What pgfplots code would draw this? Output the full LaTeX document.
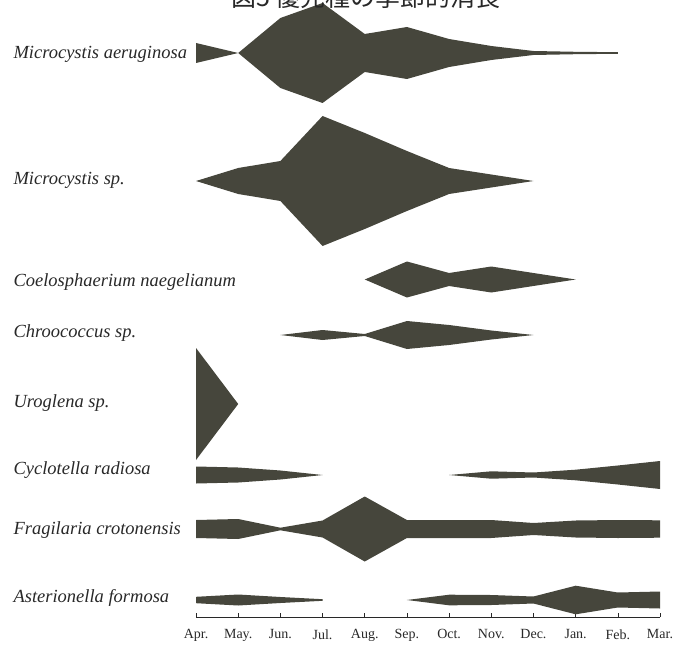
\documentclass[border=0pt]{standalone}
\usepackage{pgfplots}
\pgfplotsset{compat=1.18}
\usepackage{pgfplotstable}
\usepgfplotslibrary{fillbetween}
\usepackage{fontspec}
\setmainfont{Liberation Serif}
\newfontfamily\cjk{Noto Sans CJK JP}
\definecolor{kite}{RGB}{70,70,60}
\definecolor{ink}{RGB}{40,40,40}

% half widths of the kites (px), month 0 = Apr.
\pgfplotstableread{
m h
0 10
1 0
2 35
3 50
4 19
5 26
6 14
7 7
8 2
9 1.2
10 0.8
}\maer
\pgfplotstableread{
m h
0 0
1 13
2 20
3 65
4 48
5 30
6 13
7 6.5
8 0
}\msp
\pgfplotstableread{
m h
4 0
5 18
6 6.5
7 13
8 6.5
9 0
}\coel
\pgfplotstableread{
m h
2 0
3 5
4 1
5 14
6 10
7 4.5
8 0
}\chro
\pgfplotstableread{
m h
0 56
1 0
}\urog
\pgfplotstableread{
m h
0 8.5
1 7.5
2 4.5
3 0
}\cyclA
\pgfplotstableread{
m h
6 0
7 3.7
8 2.5
9 5.3
10 9.5
11 14
}\cyclB
\pgfplotstableread{
m h
0 9
1 10
2 1.3
3 8.5
4 32.5
5 9
6 9
7 9
8 6
9 8.5
10 9
11 8.7
}\frag
\pgfplotstableread{
m h
0 3.2
1 5.5
2 3
3 0.8
}\asteA
\pgfplotstableread{
m h
5 0
6 5.3
7 5
8 3.5
9 14.3
10 7.5
11 8.5
}\asteB

\newcommand\kite[3]{%
  \addplot[draw=none, name path=#3u] table[x=m, y expr=#2+\thisrow{h}] {#1};
  \addplot[draw=none, name path=#3l] table[x=m, y expr=#2-\thisrow{h}] {#1};
  \addplot[fill=kite, draw=none] fill between[of=#3u and #3l];
}

\begin{document}
\begin{tikzpicture}
\begin{axis}[
  name=ax,
  scale only axis,
  width=673pt, height=617pt,
  xmin=-4.647, xmax=11.308,
  ymin=29, ymax=646,
  axis x line*=bottom,
  axis y line=none,
  x axis line style={draw=none},
  xtick={0,...,11},
  xticklabels={Apr.,May.,Jun.,Jul.,Aug.,Sep.,Oct.,Nov.,Dec.,Jan.,Feb.,Mar.},
  xticklabel style={font=\fontsize{14}{14}\selectfont, text=ink, yshift=-9pt},
  tick align=inside,
  major tick length=4pt,
  tick style={ink, line width=0.6pt},
  clip=false,
]
\kite{\maer}{593}{a}
\kite{\msp}{465}{b}
\kite{\coel}{366.5}{c}
\kite{\chro}{311}{d}
\kite{\urog}{242}{e}
\kite{\cyclA}{171}{f}
\kite{\cyclB}{171}{ff}
\kite{\frag}{117}{g}
\kite{\asteA}{46}{h}
\kite{\asteB}{46}{hh}
\addplot[ink, line width=0.8pt] coordinates {(0,29) (11,29)};

\begin{scope}[every node/.style={anchor=west, text=ink, font=\itshape\fontsize{18.5}{18.5}\selectfont}]
\node at (axis cs:-4.41,592) {Microcystis aeruginosa};
\node at (axis cs:-4.41,466) {Microcystis sp.};
\node at (axis cs:-4.41,364) {Coelosphaerium naegelianum};
\node at (axis cs:-4.41,313) {Chroococcus sp.};
\node at (axis cs:-4.41,243) {Uroglena sp.};
\node at (axis cs:-4.41,176) {Cyclotella radiosa};
\node at (axis cs:-4.41,116) {Fragilaria crotonensis};
\node at (axis cs:-4.41,48) {Asterionella formosa};
\end{scope}
\node[anchor=base, text=ink, font=\cjk\fontsize{25}{25}\selectfont] at (axis cs:4.03,639) {図5 優先種の季節的消長};
\end{axis}
\pgfresetboundingbox
\path[use as bounding box] (ax.north west) rectangle ([yshift=-29pt]ax.south east);
\end{tikzpicture}
\end{document}
